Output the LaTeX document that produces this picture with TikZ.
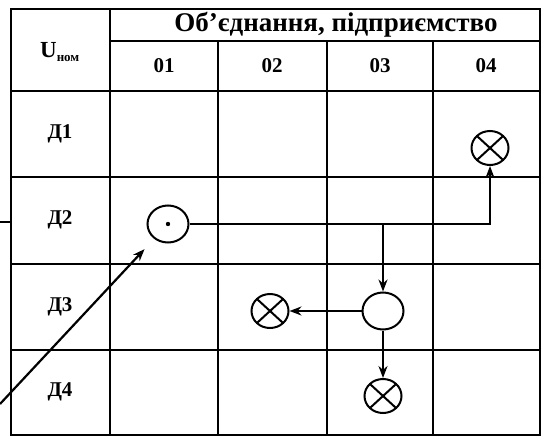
\documentclass[tikz,border=0pt]{standalone}
\usepackage{fontspec}
\setmainfont{Liberation Serif}
\usetikzlibrary{arrows.meta,shapes.geometric}

\begin{document}
\begin{tikzpicture}
        [
            x = 1pt, y = -1pt,
            grid/.style = {line width = 1.7pt},
            wire/.style = {line width = 2.2pt},
            flow/.style = {wire, -{Stealth[length = 12pt, width = 9pt]}},
            lamp/.style = {ellipse, draw, line width = 2pt, minimum width = 37pt, minimum height = 34pt, inner sep = 0pt,
                path picture = {\draw[line width = 2pt] (path picture bounding box.north west) -- (path picture bounding box.south east)
                    (path picture bounding box.north east) -- (path picture bounding box.south west);}},
            hub/.style = {ellipse, draw, line width = 2pt, minimum width = 41pt, minimum height = 37pt, inner sep = 0pt},
            label/.style = {font = \fontsize{21}{21}\selectfont\bfseries}
        ]
        \useasboundingbox (0,0) rectangle (546,436);

        % table
        \draw[grid] (11,9) rectangle (540,435);
        \draw[grid] (110,41) -- (540,41);
        \foreach \y in {91,177,264,350}
            \draw[grid] (11,\y) -- (540,\y);
        \draw[grid] (110,9) -- (110,435);
        \foreach \x in {218,327,433}
            \draw[grid] (\x,41) -- (\x,435);

        % headers
        \node[font = \fontsize{27}{27}\selectfont\bfseries] (head) at (336,25) {Об’єднання, підприємство};
        \node[label, font = \fontsize{23}{23}\selectfont\bfseries] (unom) at (60,52) {U\textsubscript{\fontsize{13}{13}\selectfont ном}};
        \foreach \n/\x in {01/164,02/272,03/380,04/486}
            \node[label] (col\n) at (\x,66) {\n};
        \foreach \n/\y in {1/134,2/220,3/307,4/392}
            \node[label] (row\n) at (60,\y) {Д\n};

        % devices
        \node[hub] (src) at (168,224) {};
        \fill (src) circle (2.2pt);
        \node[lamp] (top) at (490,148) {};
        \node[hub] (mid) at (383,311) {};
        \node[lamp] (left) at (270,311) {};
        \node[lamp] (low) at (383,396) {};

        \coordinate (corner) at (490,224);
        \coordinate (tap) at (383,224);
        \coordinate (stub) at (0,222);
        \coordinate (edge) at (11,222);
        \coordinate (feed) at (0,404);

        % connections
        \draw[flow] (src.east) -- (corner) -- (top.south);
        \draw[flow] (tap) -- (mid.north);
        \draw[flow] (mid.west) -- (left.east);
        \draw[flow] (mid.south) -- (low.north);
        \draw[wire] (stub) -- (edge);
        \draw[flow, shorten > = 14pt] (feed) -- (src);
    \end{tikzpicture}
\end{document}
